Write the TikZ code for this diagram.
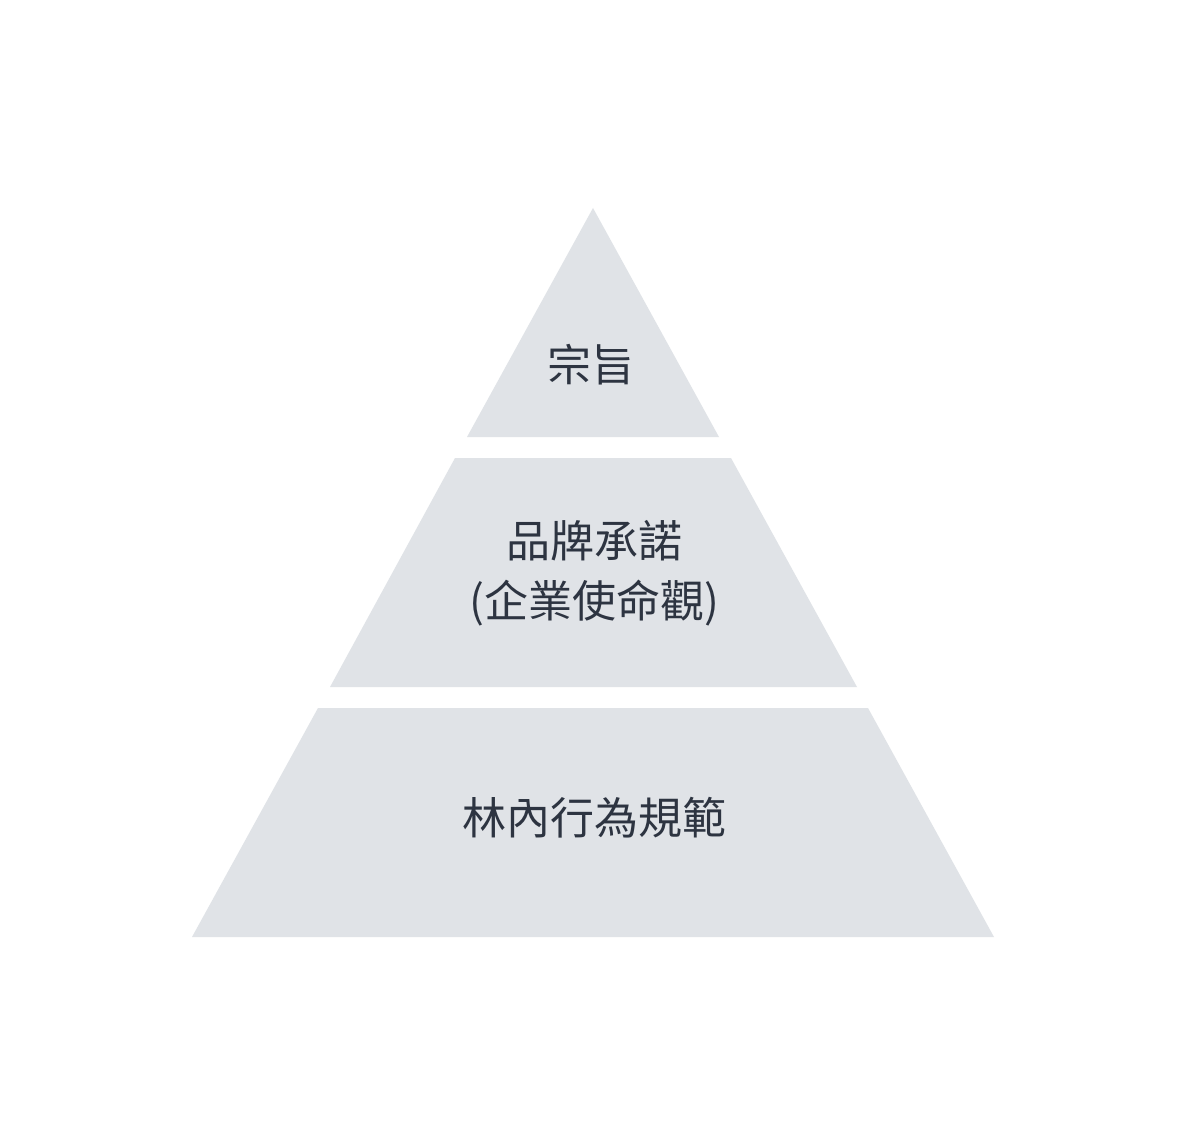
\documentclass[tikz,border=0pt]{standalone}
\usepackage{fontspec}
\newfontfamily\cjk{Noto Sans CJK TC}
\definecolor{tierfill}{HTML}{E0E3E7}
\definecolor{tiertext}{HTML}{2D3441}
\begin{document}
\begin{tikzpicture}[x=1pt,y=-1pt,
  tier/.style={fill=tierfill,draw=none},
  label/.style={font=\cjk\fontsize{44}{60}\selectfont,text=tiertext,align=center,inner sep=0pt}]
\useasboundingbox (0,0) rectangle (1188,1142);
\fill[white] (0,0) rectangle (1188,1142);
\path[tier] (593,208) -- (719,437) -- (467,437) -- cycle;
\path[tier] (455,458) -- (731,458) -- (857,687) -- (330,687) -- cycle;
\path[tier] (318,708) -- (868,708) -- (994,937) -- (192,937) -- cycle;
\node[label] (top) at (591,365) {宗旨};
\node[label] (mid) at (594,573) {品牌承諾\\(企業使命觀)};
\node[label] (bot) at (594,818) {林內行為規範};
\end{tikzpicture}
\end{document}
